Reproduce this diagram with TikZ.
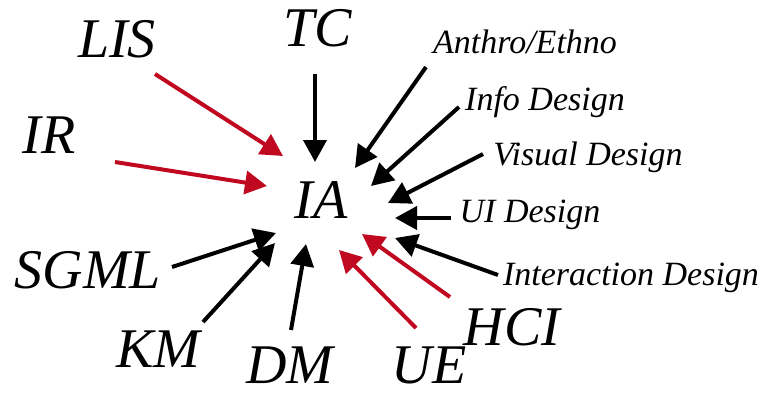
\documentclass[tikz,border=0pt]{standalone}
\usepackage{fontspec}
\setmainfont{Liberation Serif}
\usetikzlibrary{arrows.meta}
\definecolor{fieldred}{RGB}{192,8,32}
\tikzset{
  big/.style={font=\fontsize{56}{56}\itshape\selectfont, inner sep=0pt, text depth=0pt, anchor=base},
  small/.style={font=\fontsize{34}{34}\itshape\selectfont, inner sep=0pt, anchor=base},
  feed/.style={line width=4pt, -{Triangle[length=22pt,width=23pt]}},
  redfeed/.style={feed, draw=fieldred, fill=fieldred},
}
\begin{document}
\begin{tikzpicture}[x=1pt,y=-1pt]
\useasboundingbox (0,0) rectangle (762,396);
% labels
\node[big] (IA) at (321,218) {IA};
\node[big] (LIS) at (117,58) {LIS};
\node[big] (TC) at (318,47) {TC};
\node[big] (IR) at (49,153) {IR};
\node[big] (SGML) at (88,288) {SGML};
\node[big] (KM) at (158,367) {KM};
\node[big] (DM) at (290,383) {DM};
\node[big] (UE) at (429,383) {UE};
\node[big] (HCI) at (512,345) {HCI};
\node[small] (AE) at (525,53) {Anthro/Ethno};
\node[small] (ID) at (545,110) {Info Design};
\node[small] (VD) at (588,165) {Visual Design};
\node[small] (UI) at (530,222) {UI Design};
\node[small] (IxD) at (631,285) {Interaction Design};
% arrow start points (near each label)
\coordinate (sLIS) at (155,74);
\coordinate (sIR) at (115,162);
\coordinate (sTC) at (315,74);
\coordinate (sAE) at (426,67);
\coordinate (sID) at (459,107);
\coordinate (sVD) at (483,154);
\coordinate (sUI) at (451,218);
\coordinate (sIxD) at (498,275);
\coordinate (sHCI) at (450,297);
\coordinate (sUE) at (416,328);
\coordinate (sDM) at (291,330);
\coordinate (sKM) at (203,322);
\coordinate (sSGML) at (172,267);
% arrow tips (around IA)
\coordinate (tLIS) at (283,156);
\coordinate (tIR) at (267,186);
\coordinate (tTC) at (315,162);
\coordinate (tAE) at (355,168);
\coordinate (tID) at (371,186);
\coordinate (tVD) at (388,203);
\coordinate (tUI) at (395,218);
\coordinate (tIxD) at (395,238);
\coordinate (tHCI) at (362,234);
\coordinate (tUE) at (339,250);
\coordinate (tDM) at (306,244);
\coordinate (tKM) at (275,243);
\coordinate (tSGML) at (276,233);
% connectors
\draw[redfeed] (sLIS) -- (tLIS);
\draw[redfeed] (sIR) -- (tIR);
\draw[feed] (sTC) -- (tTC);
\draw[feed] (sAE) -- (tAE);
\draw[feed] (sID) -- (tID);
\draw[feed] (sVD) -- (tVD);
\draw[feed] (sUI) -- (tUI);
\draw[feed] (sIxD) -- (tIxD);
\draw[redfeed] (sHCI) -- (tHCI);
\draw[redfeed] (sUE) -- (tUE);
\draw[feed] (sDM) -- (tDM);
\draw[feed] (sKM) -- (tKM);
\draw[feed] (sSGML) -- (tSGML);
\end{tikzpicture}
\end{document}
